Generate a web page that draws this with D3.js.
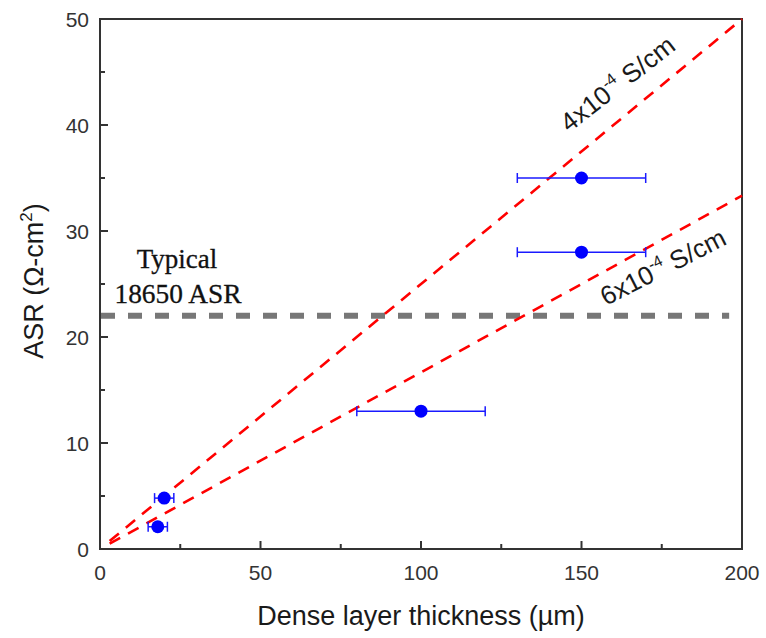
<!DOCTYPE html>
<html>
<head>
<meta charset="utf-8">
<script src="https://cdn.jsdelivr.net/npm/d3@7"></script>
<style>
  body { margin: 0; background: #fff; }
  svg { display: block; }
</style>
</head>
<body>
<div id="chart"></div>
<script>
// measured points: thickness (um), ASR (ohm-cm2), +/- thickness
const thickness = [18, 20, 100, 150, 150];
const asr = [2.1, 4.8, 13, 28, 35];
const thicknessErr = [3, 3, 20, 20, 20];

// conductivity lines, ASR = t / sigma
const conductivity = [4e-4, 6e-4];
const lineLabels = ["4x10", "6x10"];
const lineStart = 3;
const lineEnd = 200;

const typicalASR = 22;
const typicalEnd = 196;

const xTicks = [0, 50, 100, 150, 200];
const yTicks = [0, 10, 20, 30, 40, 50];

const width = 766, height = 638;
const margin = { left: 100, right: 24, top: 19, bottom: 89 };

const svg = d3.select("#chart").append("svg")
    .attr("width", width)
    .attr("height", height);

const x = d3.scaleLinear().domain([0, 200]).range([margin.left, width - margin.right]);
const y = d3.scaleLinear().domain([0, 50]).range([height - margin.bottom, margin.top]);

const axisColor = "#333";
const sans = "Liberation Sans, Arial, sans-serif";
const serif = "Liberation Serif, Times New Roman, serif";

// frame
svg.append("rect")
    .attr("x", x(0)).attr("y", y(50))
    .attr("width", x(200) - x(0)).attr("height", y(0) - y(50))
    .attr("fill", "none").attr("stroke", axisColor).attr("stroke-width", 2);

// ticks (inward)
const xMinor = d3.range(25, 200, 50);
const yMinor = d3.range(5, 50, 10);
svg.append("g").selectAll("line")
    .data(xTicks.slice(1, -1).map(v => [v, 8]).concat(xMinor.map(v => [v, 5])))
    .join("line")
    .attr("x1", d => x(d[0])).attr("x2", d => x(d[0]))
    .attr("y1", y(0)).attr("y2", d => y(0) - d[1])
    .attr("stroke", axisColor).attr("stroke-width", 2);
svg.append("g").selectAll("line")
    .data(yTicks.slice(1, -1).map(v => [v, 8]).concat(yMinor.map(v => [v, 5])))
    .join("line")
    .attr("y1", d => y(d[0])).attr("y2", d => y(d[0]))
    .attr("x1", x(0)).attr("x2", d => x(0) + d[1])
    .attr("stroke", axisColor).attr("stroke-width", 2);

// tick labels
svg.append("g").selectAll("text")
    .data(xTicks).join("text")
    .attr("x", d => x(d)).attr("y", y(0) + 31)
    .attr("text-anchor", "middle")
    .attr("font-family", sans)
    .attr("font-size", 21).attr("fill", axisColor)
    .text(d => d);
svg.append("g").selectAll("text")
    .data(yTicks).join("text")
    .attr("x", x(0) - 11).attr("y", d => y(d) + 8)
    .attr("text-anchor", "end")
    .attr("font-family", sans)
    .attr("font-size", 21).attr("fill", axisColor)
    .text(d => d);

// axis titles
svg.append("text")
    .attr("x", 421).attr("y", 625)
    .attr("text-anchor", "middle")
    .attr("font-family", sans)
    .attr("font-size", 27).attr("fill", "#1a1a1a")
    .text("Dense layer thickness (\u00b5m)");

const yt = svg.append("text")
    .attr("transform", `translate(43,281) rotate(-90)`)
    .attr("text-anchor", "middle")
    .attr("font-family", sans)
    .attr("font-size", 27).attr("fill", "#1a1a1a");
yt.append("tspan").text("ASR (\u03a9-cm");
yt.append("tspan").attr("font-size", 17).attr("dy", -11).text("2");
yt.append("tspan").attr("dy", 11).text(")");

// typical 18650 line
svg.append("line")
    .attr("x1", x(0) + 1).attr("x2", x(typicalEnd))
    .attr("y1", y(typicalASR)).attr("y2", y(typicalASR))
    .attr("stroke", "#777").attr("stroke-width", 6)
    .attr("stroke-dasharray", "14,13");

svg.append("text")
    .attr("x", 177).attr("y", 268)
    .attr("text-anchor", "middle")
    .attr("font-family", serif)
    .attr("font-size", 27).attr("fill", "#111")
    .attr("stroke", "#111").attr("stroke-width", 0.3)
    .text("Typical");
svg.append("text")
    .attr("x", 178).attr("y", 303)
    .attr("text-anchor", "middle")
    .attr("font-family", serif)
    .attr("font-size", 27).attr("fill", "#111")
    .attr("stroke", "#111").attr("stroke-width", 0.3)
    .attr("textLength", 127).attr("lengthAdjust", "spacingAndGlyphs")
    .text("18650 ASR");

// conductivity lines (t in um -> cm)
const line = d3.line().x(d => x(d[0])).y(d => y(d[1]));
conductivity.forEach(s => {
    const pts = [lineStart, lineEnd].map(t => [t, t * 1e-4 / s]);
    svg.append("path")
        .attr("d", line(pts))
        .attr("fill", "none")
        .attr("stroke", "#f00").attr("stroke-width", 2.6)
        .attr("stroke-dasharray", "12,9");
});

// rotated line labels
function lineLabel(prefix, px, py, angle) {
    const t = svg.append("text")
        .attr("transform", `translate(${px},${py}) rotate(${angle})`)
        .attr("font-family", sans)
        .attr("font-size", 26).attr("fill", "#1a1a1a");
    t.append("tspan").text(prefix);
    t.append("tspan").attr("font-size", 16).attr("dy", -11).text("-4");
    t.append("tspan").attr("dy", 11).text(" S/cm");
}
lineLabel(lineLabels[0], 569, 133, -38);
lineLabel(lineLabels[1], 606, 306, -27);

// error bars
const pts = thickness.map((t, i) => ({ t, a: asr[i], e: thicknessErr[i] }));
const eb = svg.append("g").attr("stroke", "#1a1aff").attr("stroke-width", 1.5);
eb.selectAll("line.h").data(pts).join("line").attr("class", "h")
    .attr("x1", d => x(d.t - d.e)).attr("x2", d => x(d.t + d.e))
    .attr("y1", d => y(d.a)).attr("y2", d => y(d.a));
eb.selectAll("line.l").data(pts).join("line").attr("class", "l")
    .attr("x1", d => x(d.t - d.e)).attr("x2", d => x(d.t - d.e))
    .attr("y1", d => y(d.a) - 5).attr("y2", d => y(d.a) + 5);
eb.selectAll("line.r").data(pts).join("line").attr("class", "r")
    .attr("x1", d => x(d.t + d.e)).attr("x2", d => x(d.t + d.e))
    .attr("y1", d => y(d.a) - 5).attr("y2", d => y(d.a) + 5);

svg.append("g").selectAll("circle")
    .data(pts).join("circle")
    .attr("cx", d => x(d.t)).attr("cy", d => y(d.a))
    .attr("r", 6.5)
    .attr("fill", "#0000ff");
</script>
</body>
</html>
